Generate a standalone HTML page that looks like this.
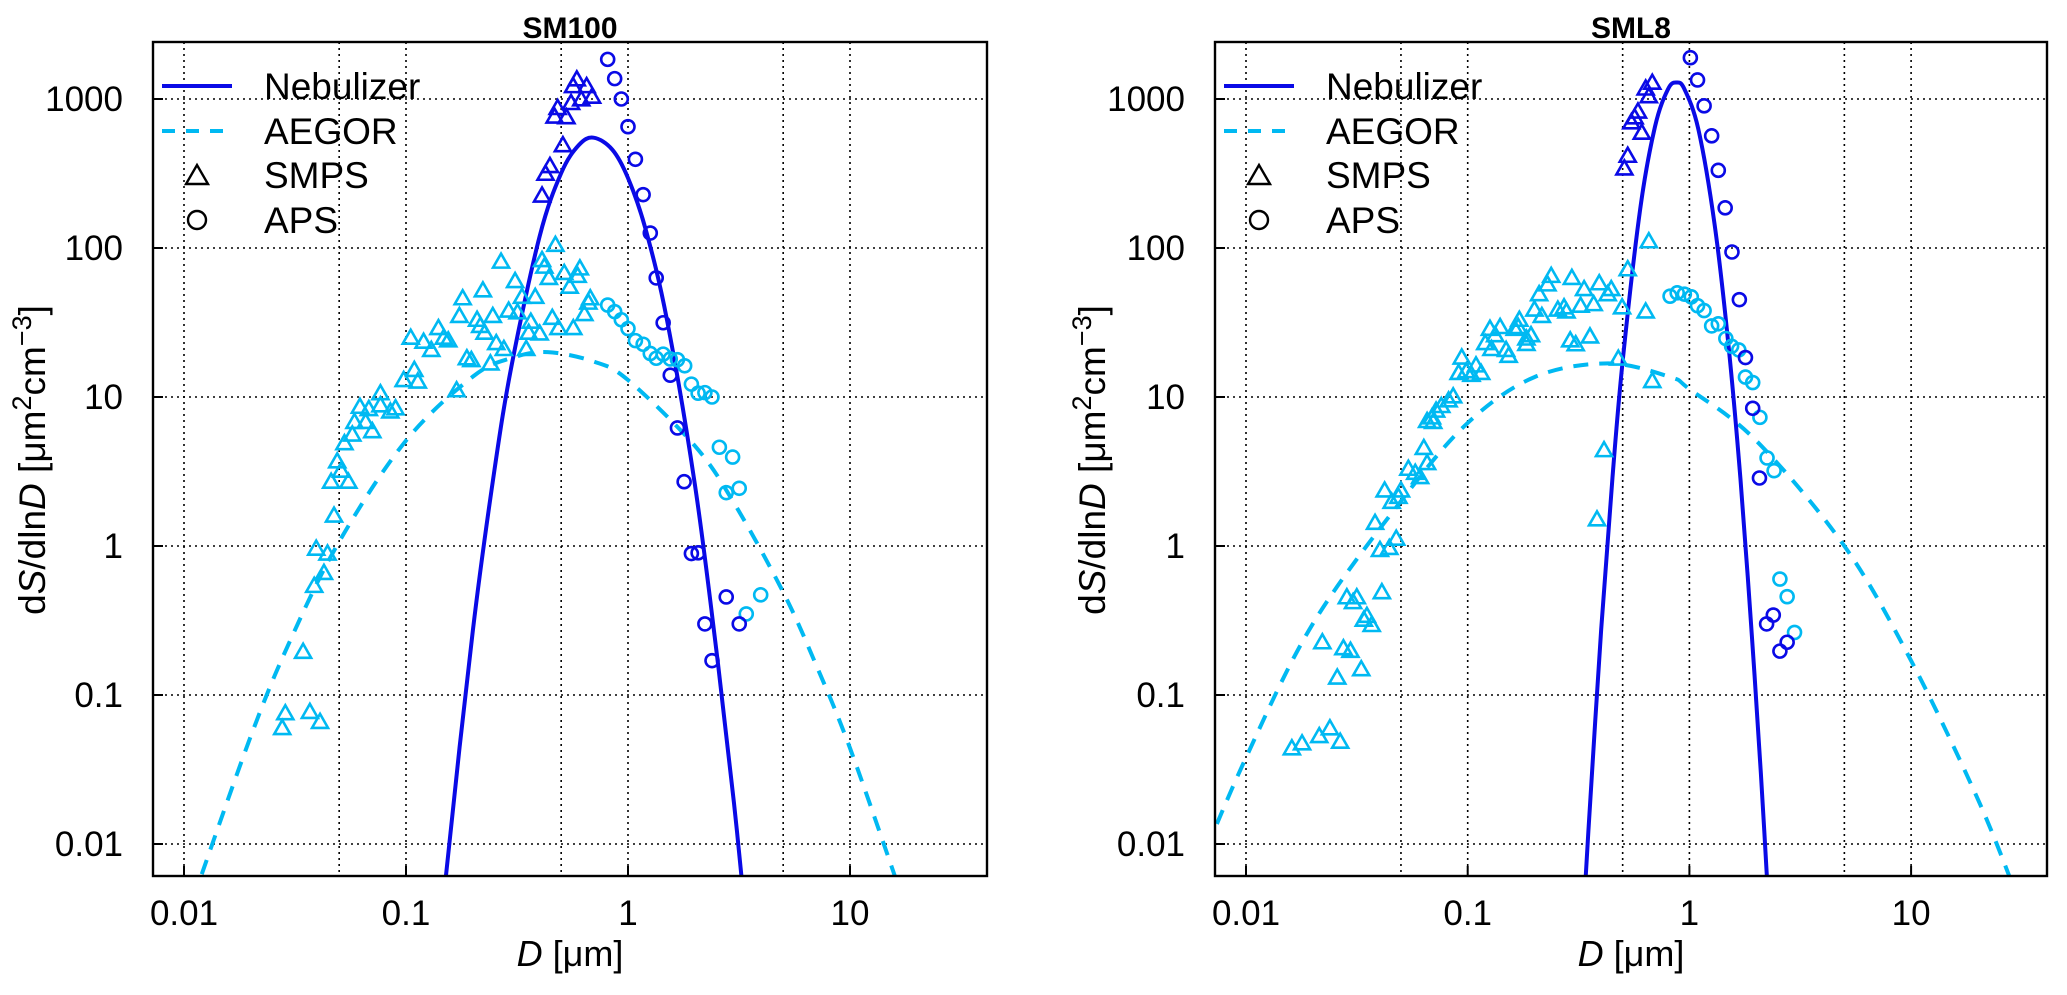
<!DOCTYPE html>
<html><head><meta charset="utf-8"><style>
html,body{margin:0;padding:0;background:#fff;}
svg{display:block;font-family:"Liberation Sans",Arial,sans-serif;}
</style></head><body>
<svg id="chart" xmlns="http://www.w3.org/2000/svg" width="2067" height="995" viewBox="0 0 2067 995"></svg>
<script>
// ---------- data: SM100 ----------
const sm100NebCurveD = [0.145,0.15,0.2,0.25,0.3,0.4,0.5,0.6,0.7,0.85,1.0,1.2,1.5,2.0,2.5,3.0,3.4];
const sm100NebCurveS = [0.002,0.0054,0.27,3.2,16.7,120,318,490,550,457,295,134,32.6,2.6,0.2,0.019,0.003];
const sm100AegCurveD = [0.011,0.02,0.03,0.05,0.1,0.2,0.3,0.435,0.7,1,2,3,5,7,10,17];
const sm100AegCurveS = [0.0043,0.053,0.23,1.07,5.1,13.7,18.3,20,17.3,13,4.7,1.95,0.49,0.162,0.044,0.0046];
const sm100NebSmpsD = [0.588,0.566,0.651,0.689,0.616,0.554,0.482,0.467,0.528,0.509,0.445,0.425,0.410];
const sm100NebSmpsS = [1355,1220,1220,1036,995,940,870,762,755,490,355,315,225];
const sm100NebApsD = [0.81,0.871,0.933,1.0,1.08,1.17,1.26,1.34,1.44,1.55,1.67,1.79,1.93,2.07,2.22,2.39,2.77,3.17];
const sm100NebApsS = [1845,1370,1000,652,394,228,126,63,31.5,14,6.2,2.7,0.89,0.9,0.30,0.17,0.455,0.30];
const sm100AegApsD = [0.81,0.871,0.933,1.0,1.08,1.17,1.26,1.34,1.44,1.55,1.67,1.80,1.93,2.07,2.22,2.39,2.58,2.96,2.77,3.17,3.96,3.41];
const sm100AegApsS = [41.4,37.4,33,28.8,23.9,22.6,19.6,18.2,19.4,18,17.8,16.2,12.2,10.6,10.7,10,4.6,3.95,2.28,2.44,0.47,0.35];
const sm100AegSmpsD = [0.471,0.41,0.42,0.268,0.516,0.607,0.593,0.44,0.31,0.546,0.222,0.18,0.333,0.382,0.676,0.663,0.29,0.318,0.636,0.174,0.246,0.209,0.365,0.456,0.567,0.486,0.14,0.148,0.155,0.105,0.12,0.13,0.216,0.226,0.357,0.40,0.255,0.276,0.348,0.188,0.197,0.24,0.109,0.0976,0.113,0.169,0.0767,
0.062,0.068,0.0767,0.085,0.0897,0.0586,0.0658,0.0705,0.0573,0.0528,0.049,0.051,0.046,0.055,0.0474,0.0394,0.0443,0.0427,0.0386,0.0344,0.0286,0.0369,0.041,0.0277];
const sm100AegSmpsS = [105,83,75,81,68,73,65,63,60,55,52,46,47,47,46,43,38,37,36,35,35,33,32,34,29,29,29,25,24,25,23.5,20.7,30,27,27,26.7,23,21,21,18.2,17.7,16.8,15.2,13,12.7,11.1,10.6,
8.6,8.3,8.8,8.0,8.4,6.8,6.8,5.9,5.6,4.9,3.7,3.2,2.7,2.7,1.6,0.96,0.89,0.66,0.54,0.195,0.0755,0.077,0.066,0.06];
// ---------- data: SML8 ----------
const sml8NebCurveD = [0.33,0.35,0.4,0.45,0.5,0.6,0.7,0.8,0.873,0.95,1.1,1.3,1.5,1.7,1.9,2.1,2.3];
const sml8NebCurveS = [0.0027,0.012,0.275,2.9,17.4,183,655,1160,1290,1164,617,143,22.4,2.8,0.29,0.03,0.0029];
const sml8AegCurveD = [0.006,0.01,0.02,0.05,0.1,0.2,0.43,0.82,1,2,5,10,20,30];
const sml8AegCurveS = [0.0065,0.038,0.3,2.0,6.7,13.6,16.8,13.6,11.3,5.1,1.0,0.17,0.02,0.0045];
const sml8NebSmpsD = [0.68,0.635,0.656,0.586,0.566,0.547,0.61,0.527,0.509];
const sml8NebSmpsS = [1286,1176,1044,824,753,698,594,416,342];
const sml8NebApsD = [1.01,1.088,1.165,1.26,1.35,1.45,1.556,1.68,1.79,1.93,2.07,2.39,2.23,2.76,2.56];
const sml8NebApsS = [1893,1342,900,566,332,186,94,45,18.4,8.4,2.86,0.344,0.30,0.226,0.197];
const sml8AegApsD = [0.818,0.881,0.949,1.02,1.088,1.165,1.26,1.35,1.46,1.55,1.67,1.79,1.93,2.08,2.24,2.41,2.56,2.76,2.98];
const sml8AegApsS = [47.5,50,49,47,41,38,30,31,24.7,21.9,20.7,13.6,12.5,7.3,3.9,3.2,0.60,0.457,0.263];
const sml8AegSmpsD = [0.656,0.527,0.635,0.497,0.478,0.68,0.238,0.295,0.392,0.444,0.335,0.229,0.21,0.428,0.37,0.323,0.272,0.255,0.279,0.2,0.216,0.171,0.126,0.14,0.163,0.193,0.169,0.12,0.133,0.128,0.184,0.184,0.149,0.153,0.29,0.307,0.356,0.094,0.091,0.0986,0.109,0.115,0.104,0.086,0.082,0.076,0.072,0.069,0.0656,0.0699,0.0634,0.0656,0.054,0.058,0.061,0.0422,0.05,0.0454,0.0382,0.0476,0.0402,0.0443,0.412,
0.383,0.0487,0.041,0.0285,0.0316,0.0304,0.0351,0.034,0.0369,0.0221,0.0275,0.0296,0.0331,0.0258,0.0239,0.0214,0.0266,0.0179,0.0161];
const sml8AegSmpsS = [111,72,37.5,40,18.1,12.8,65,63,58,53,53,57,49,49,42,41,40,38.6,37.5,38.6,35,33,28.7,29.5,28.7,26,29.5,23,26,21,24.7,22.7,20.7,18.9,24,22.6,25.5,18.4,14.5,14.9,16.3,14.5,14.1,10.1,9.5,8.7,8.1,7.3,6.9,6.8,4.55,3.6,3.3,3.1,2.9,2.36,2.36,1.98,1.43,1.12,0.94,0.97,4.4,
1.51,2.14,0.49,0.453,0.453,0.42,0.34,0.32,0.295,0.226,0.206,0.198,0.149,0.131,0.0598,0.053,0.0486,0.0474,0.0439];
// ---------- ticks ----------
const xTickValues = [0.01,0.1,1,10];
const xTickLabels = ["0.01","0.1","1","10"];
const xGridValues = [0.01,0.05,0.1,0.5,1,5,10];
const yTickValues = [1000,100,10,1,0.1,0.01];
const yTickLabels = ["1000","100","10","1","0.1","0.01"];
const legendLabels = ["Nebulizer","AEGOR","SMPS","APS"];

const NS = "http://www.w3.org/2000/svg";
const svg = document.getElementById('chart');
const DARK = "#0a0ae6", LIGHT = "#00b9f2";
function mk(tag, attrs, parent){
  const e = document.createElementNS(NS, tag);
  for (const k in attrs) e.setAttribute(k, attrs[k]);
  (parent||svg).appendChild(e);
  return e;
}
function drawPanel(p){
  const g = mk('g', {});
  
  
  const sx = v => p.x001 + (Math.log10(v) + 2) * p.dec;
  const sy = v => 844 - (Math.log10(v) + 2) * 149;
  const L = p.left, R = p.right, T = 42, B = 876;
  const clipId = 'clip-' + p.id;
  const defs = mk('defs', {}, g);
  const cp = mk('clipPath', {id: clipId}, defs);
  mk('rect', {x: L, y: T, width: R - L, height: B - T}, cp);
  xGridValues.forEach(v => {
    const l = mk('line', {x1: sx(v), x2: sx(v), y1: T, y2: B, stroke: '#000', 'stroke-width': 1.6, 'stroke-dasharray': '2 4'}, g);
    
    
  });
  yTickValues.forEach(v => {
    const l = mk('line', {x1: L, x2: R, y1: sy(v), y2: sy(v), stroke: '#000', 'stroke-width': 1.6, 'stroke-dasharray': '2 4'}, g);
    
    
  });
  const plot = mk('g', {'clip-path': 'url(#' + clipId + ')'}, g);
  
  
  function curve(D, S, color, dash, name){
    const pts = D.map((d, i) => [sx(d), sy(S[i])]);
    let d = 'M' + pts[0][0] + ',' + pts[0][1];
    for (let i = 0; i < pts.length - 1; i++){
      const p0 = pts[Math.max(0, i - 1)], p1 = pts[i], p2 = pts[i + 1], p3 = pts[Math.min(pts.length - 1, i + 2)];
      const c1 = [p1[0] + (p2[0] - p0[0]) / 6, p1[1] + (p2[1] - p0[1]) / 6];
      const c2 = [p2[0] - (p3[0] - p1[0]) / 6, p2[1] - (p3[1] - p1[1]) / 6];
      d += ' C' + c1[0] + ',' + c1[1] + ' ' + c2[0] + ',' + c2[1] + ' ' + p2[0] + ',' + p2[1];
    }
    const path = mk('path', {d: d, fill: 'none', stroke: color, 'stroke-width': 4}, plot);
    if (dash) path.setAttribute('stroke-dasharray', '15 11');
    
    
  }
  function tris(D, S, color, name){
    D.forEach((d, i) => {
      const x = sx(d), y = sy(S[i]);
      const t = mk('polygon', {points: (x - 8) + ',' + (y + 6) + ' ' + (x + 8) + ',' + (y + 6) + ' ' + x + ',' + (y - 8), fill: 'none', stroke: color, 'stroke-width': 2.6}, plot);
      
      
    });
  }
  function circs(D, S, color, name){
    D.forEach((d, i) => {
      const c = mk('circle', {cx: sx(d), cy: sy(S[i]), r: 6.5, fill: 'none', stroke: color, 'stroke-width': 2.6}, plot);
      
      
    });
  }
  curve(p.aegD, p.aegS, LIGHT, true, 'aegor-curve');
  curve(p.nebD, p.nebS, DARK, false, 'nebulizer-curve');
  tris(p.aSmpsD, p.aSmpsS, LIGHT, 'aegor-smps-point');
  circs(p.aApsD, p.aApsS, LIGHT, 'aegor-aps-point');
  tris(p.nSmpsD, p.nSmpsS, DARK, 'nebulizer-smps-point');
  circs(p.nApsD, p.nApsS, DARK, 'nebulizer-aps-point');
  const fr = mk('rect', {x: L, y: T, width: R - L, height: B - T, fill: 'none', stroke: '#000', 'stroke-width': 2.4}, g);
  
  
  xTickValues.forEach((v, i) => {
    const tk = mk('line', {x1: sx(v), x2: sx(v), y1: B, y2: B - 10, stroke: '#000', 'stroke-width': 2}, g);
    
    
    const t = mk('text', {x: sx(v), y: 925, 'font-size': 35, 'text-anchor': 'middle', fill: '#000'}, g);
    t.textContent = xTickLabels[i];
    
    
  });
  yTickValues.forEach((v, i) => {
    const tk = mk('line', {x1: L, x2: L + 10, y1: sy(v), y2: sy(v), stroke: '#000', 'stroke-width': 2}, g);
    
    
    const t = mk('text', {x: L - 30, y: sy(v) + 12, 'font-size': 35, 'text-anchor': 'end', fill: '#000'}, g);
    t.textContent = yTickLabels[i];
    
    
  });
  const ti = mk('text', {x: (L + R) / 2, y: 38, 'font-size': 30, 'font-weight': 'bold', 'text-anchor': 'middle'}, g);
  ti.textContent = p.title;
  
  
  const xt = mk('text', {x: (L + R) / 2, y: 966, 'font-size': 36, 'text-anchor': 'middle'}, g);
  xt.innerHTML = '<tspan font-style="italic">D</tspan> [μm]';
  
  
  const yt = mk('text', {x: 0, y: 0, 'font-size': 37, 'text-anchor': 'middle', transform: 'translate(' + (p.ylabX) + ',460) rotate(-90)'}, g);
  yt.innerHTML = 'd<tspan font-style="italic">S</tspan>/dln<tspan font-style="italic">D</tspan>  [μm<tspan font-size="27" dy="-14">2</tspan><tspan dy="14">cm</tspan><tspan font-size="27" dy="-14">−3</tspan><tspan dy="14">]</tspan>';
  
  
  const lg = mk('g', {}, g);
  
  
  const lx = L + 9, rows = [86, 131, 175, 220];
  const l1 = mk('line', {x1: lx, x2: lx + 70, y1: rows[0], y2: rows[0], stroke: DARK, 'stroke-width': 4}, lg);
  
  
  const l2 = mk('line', {x1: lx, x2: lx + 70, y1: rows[1], y2: rows[1], stroke: LIGHT, 'stroke-width': 4, 'stroke-dasharray': '13 11'}, lg);
  
  
  const mx = lx + 35;
  const tr = mk('polygon', {points: (mx - 11) + ',' + (rows[2] + 9) + ' ' + (mx + 11) + ',' + (rows[2] + 9) + ' ' + mx + ',' + (rows[2] - 10), fill: 'none', stroke: '#000', 'stroke-width': 2.4}, lg);
  
  
  const ci = mk('circle', {cx: mx, cy: rows[3], r: 9, fill: 'none', stroke: '#000', 'stroke-width': 2.4}, lg);
  
  
  legendLabels.forEach((s, i) => {
    const t = mk('text', {x: lx + 102, y: rows[i] + 13, 'font-size': 37}, lg);
    t.textContent = s;
    
    
  });
}
drawPanel({id: 'sm100', title: 'SM100', left: 153, right: 987, x001: 184, dec: 222, ylabX: 45,
  nebD: sm100NebCurveD, nebS: sm100NebCurveS, aegD: sm100AegCurveD, aegS: sm100AegCurveS,
  nSmpsD: sm100NebSmpsD, nSmpsS: sm100NebSmpsS, nApsD: sm100NebApsD, nApsS: sm100NebApsS,
  aSmpsD: sm100AegSmpsD, aSmpsS: sm100AegSmpsS, aApsD: sm100AegApsD, aApsS: sm100AegApsS});
drawPanel({id: 'sml8', title: 'SML8', left: 1215, right: 2047, x001: 1246, dec: 221.7, ylabX: 1105,
  nebD: sml8NebCurveD, nebS: sml8NebCurveS, aegD: sml8AegCurveD, aegS: sml8AegCurveS,
  nSmpsD: sml8NebSmpsD, nSmpsS: sml8NebSmpsS, nApsD: sml8NebApsD, nApsS: sml8NebApsS,
  aSmpsD: sml8AegSmpsD, aSmpsS: sml8AegSmpsS, aApsD: sml8AegApsD, aApsS: sml8AegApsS});
</script>
</body></html>
